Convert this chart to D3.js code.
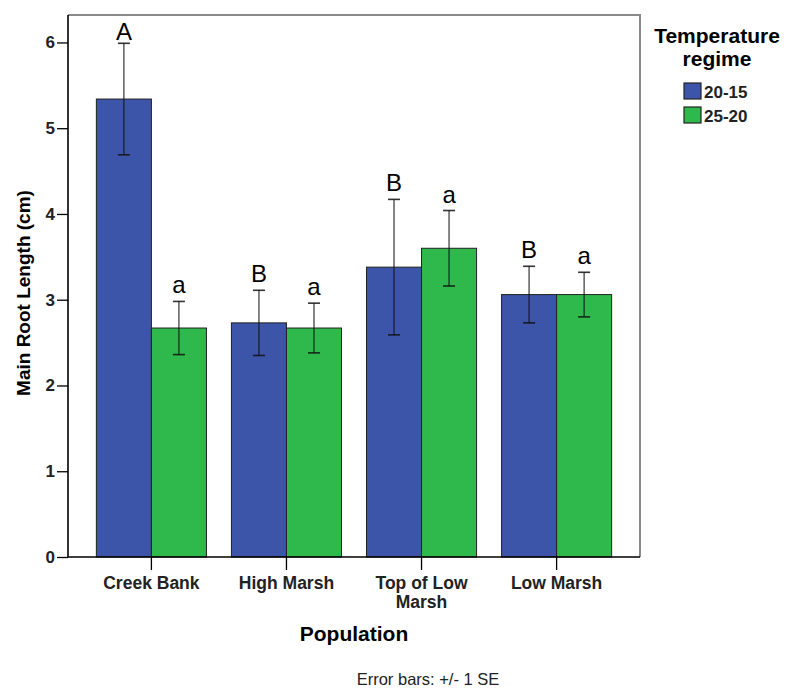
<!DOCTYPE html>
<html>
<head>
<script src="https://d3js.org/d3.v7.min.js"></script>
<style>
  body { margin: 0; background: #fff; }
  text { font-family: "Liberation Sans", Arial, sans-serif; }
</style>
</head>
<body>
<div id="chart"></div>
<script>
const populations = ['Creek Bank', 'High Marsh', 'Top of Low Marsh', 'Low Marsh']
const regimes = ['20-15', '25-20']
const means20 = [5.34, 2.73, 3.38, 3.06]
const means25 = [2.67, 2.67, 3.60, 3.06]
const se20 = [0.65, 0.38, 0.79, 0.33]
const se25 = [0.31, 0.29, 0.44, 0.26]
const letters20 = ['A', 'B', 'B', 'B']
const letters25 = ['a', 'a', 'a', 'a']
const yTicks = [0, 1, 2, 3, 4, 5, 6]

const w = 787, h = 688
const padLeft = 68, padRight = 640, padTop = 15, padBottom = 557

const rows = []
populations.forEach((p, i) => {
  rows.push({pop: p, regime: regimes[0], mean: means20[i], se: se20[i], letter: letters20[i]})
  rows.push({pop: p, regime: regimes[1], mean: means25[i], se: se25[i], letter: letters25[i]})
})

const colour = d3.scaleOrdinal().domain(regimes).range(['#3c55a8', '#2fb84b'])

const x = d3.scaleBand().domain(populations).range([padLeft, padRight])
  .paddingInner(0.185).paddingOuter(0.21)
const xSub = d3.scaleBand().domain(regimes).range([0, x.bandwidth()])
const y = d3.scaleLinear().domain([0, 6.32]).range([padBottom, padTop])

const svg = d3.select('#chart').append('svg').attr('width', w).attr('height', h)

// frame top/right
svg.append('path')
  .attr('d', `M${padLeft},${padTop}H${padRight}V${padBottom}`)
  .attr('fill', 'none').attr('stroke', '#8a8a8a').attr('stroke-width', 2)

// bars
svg.append('g').selectAll('rect').data(rows).enter().append('rect')
  .attr('x', d => x(d.pop) + xSub(d.regime))
  .attr('y', d => y(d.mean))
  .attr('width', xSub.bandwidth())
  .attr('height', d => y(0) - y(d.mean))
  .attr('fill', d => colour(d.regime))
  .attr('stroke', '#222').attr('stroke-width', 1)

// error bars
const eb = svg.append('g').selectAll('g').data(rows).enter().append('g')
  .attr('transform', d => `translate(${x(d.pop) + xSub(d.regime) + xSub.bandwidth() / 2},0)`)
eb.append('line')
  .attr('y1', d => y(d.mean + d.se)).attr('y2', d => y(d.mean - d.se))
  .attr('stroke', '#111').attr('stroke-width', 1.2).attr('opacity', 0.85)
eb.append('line').attr('x1', -6).attr('x2', 6)
  .attr('y1', d => y(d.mean + d.se)).attr('y2', d => y(d.mean + d.se))
  .attr('stroke', '#111').attr('stroke-width', 1.6).attr('opacity', 0.85)
eb.append('line').attr('x1', -6).attr('x2', 6)
  .attr('y1', d => y(d.mean - d.se)).attr('y2', d => y(d.mean - d.se))
  .attr('stroke', '#111').attr('stroke-width', 1.6).attr('opacity', 0.85)
eb.append('text')
  .attr('y', d => y(d.mean + d.se) - (d.letter === 'A' ? 3 : 8))
  .attr('text-anchor', 'middle')
  .style('font-size', '24px').attr('fill', '#000')
  .text(d => d.letter)

// axes
const yAxis = svg.append('g').attr('transform', `translate(${padLeft},0)`)
  .call(d3.axisLeft(y).tickValues(yTicks).tickFormat(d3.format('d')).tickSize(11).tickPadding(2))
yAxis.select('.domain').attr('stroke', '#000').attr('stroke-width', 1.6)
  .attr('d', `M0,${padTop}V${padBottom}`)
yAxis.selectAll('.tick line').attr('stroke', '#000').attr('stroke-width', 1.3)
yAxis.selectAll('.tick text').style('font-size', '17px').style('font-weight', 'bold').attr('fill', '#222')

const xAxis = svg.append('g').attr('transform', `translate(0,${padBottom})`)
  .call(d3.axisBottom(x).tickSize(13).tickFormat(''))
xAxis.select('.domain').attr('stroke', '#000').attr('stroke-width', 1.6)
  .attr('d', `M${padLeft},0H${padRight}`)
xAxis.selectAll('.tick line').attr('stroke', '#000').attr('stroke-width', 1.3)

const catLines = {'Top of Low Marsh': ['Top of Low', 'Marsh']}
populations.forEach(p => {
  const t = svg.append('text').attr('x', x(p) + x.bandwidth() / 2).attr('y', 589)
    .attr('text-anchor', 'middle').style('font-size', '17.5px').style('font-weight', 'bold').attr('fill', '#222')
  const lines = catLines[p] || [p]
  lines.forEach((l, i) => t.append('tspan').attr('x', x(p) + x.bandwidth() / 2).attr('dy', i ? 19 : 0).text(l))
})

// axis titles
svg.append('text').attr('x', 354).attr('y', 641).attr('text-anchor', 'middle')
  .style('font-size', '21px').style('font-weight', 'bold').text('Population')
svg.append('text').attr('transform', `translate(30,${(padTop + padBottom) / 2 + 7}) rotate(-90)`)
  .attr('text-anchor', 'middle').style('font-size', '19px').style('font-weight', 'bold')
  .text('Main Root Length (cm)')
svg.append('text').attr('x', 428).attr('y', 685).attr('text-anchor', 'middle')
  .style('font-size', '16.5px').attr('fill', '#222').text('Error bars: +/- 1 SE')

// legend
svg.append('text').attr('x', 717).attr('y', 43).attr('text-anchor', 'middle')
  .style('font-size', '21px').style('font-weight', 'bold').text('Temperature')
svg.append('text').attr('x', 717).attr('y', 66).attr('text-anchor', 'middle')
  .style('font-size', '21px').style('font-weight', 'bold').text('regime')
const lg = svg.append('g').selectAll('g').data(regimes).enter().append('g')
  .attr('transform', (d, i) => `translate(684,${83 + i * 24})`)
lg.append('rect').attr('width', 17).attr('height', 16)
  .attr('fill', d => colour(d)).attr('stroke', '#222').attr('stroke-width', 1.2)
lg.append('text').attr('x', 20).attr('y', 15)
  .style('font-size', '17px').style('font-weight', 'bold').attr('fill', '#222').text(d => d)
</script>
</body>
</html>
